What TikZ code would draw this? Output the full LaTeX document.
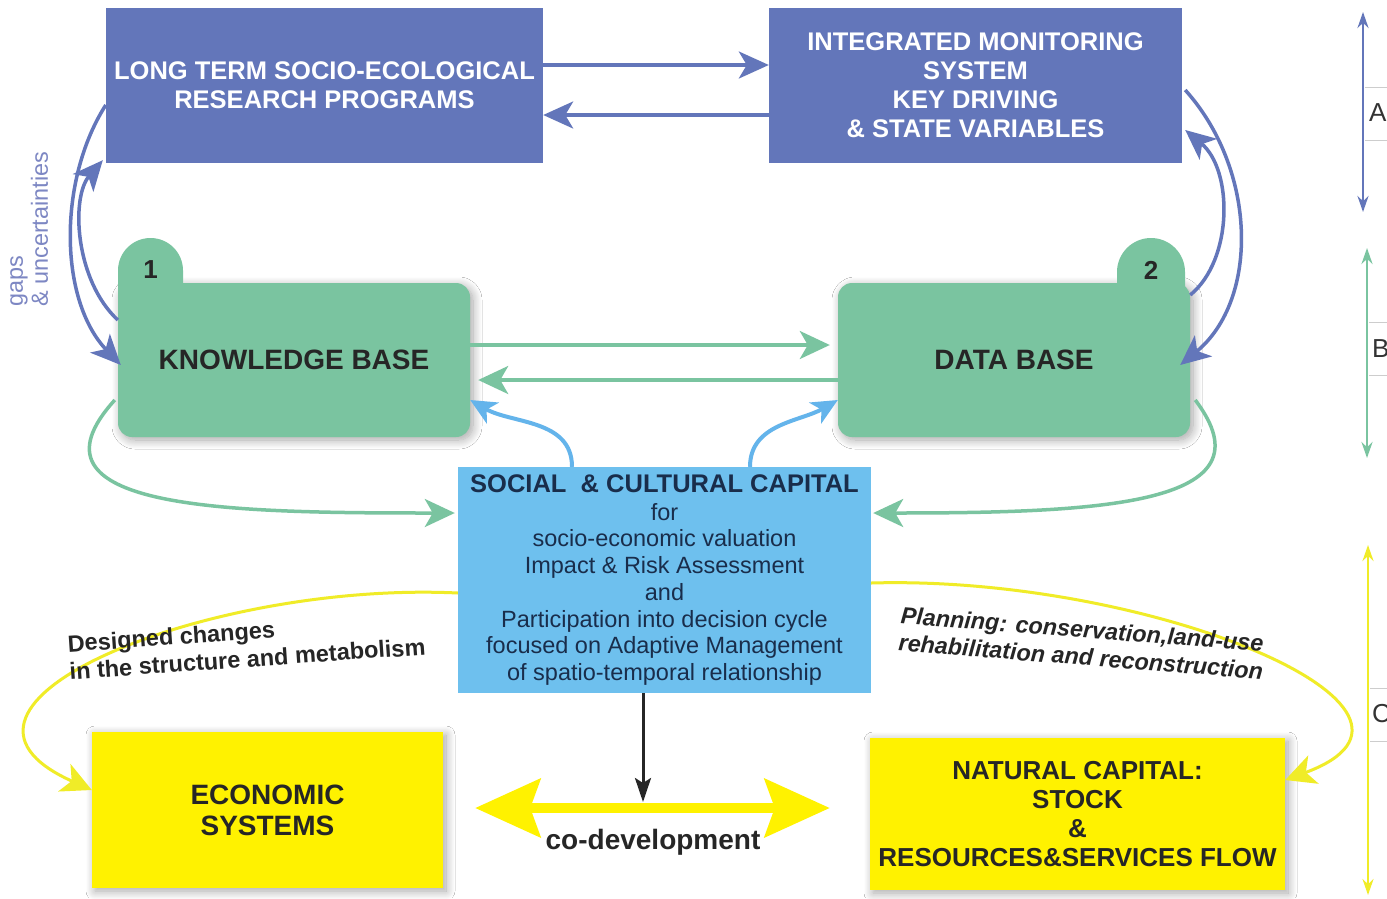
\documentclass[tikz,border=0pt]{standalone}
\usepackage{fontspec}
\setmainfont{Liberation Sans}
\usetikzlibrary{arrows.meta,shadows.blur}
\definecolor{boxblue}{RGB}{99,118,186}
\definecolor{boxgreen}{RGB}{122,196,160}
\definecolor{boxlight}{RGB}{110,192,238}
\definecolor{arrlight}{RGB}{100,180,235}
\definecolor{boxyellow}{RGB}{255,242,0}
\definecolor{lineyellow}{RGB}{240,236,40}
\definecolor{gapsblue}{RGB}{125,135,195}
\definecolor{navy}{RGB}{25,45,75}
\definecolor{scalegray}{RGB}{205,205,205}
\tikzset{
 softshadow/.style={blur shadow={shadow xshift=3pt, shadow yshift=-3pt, shadow blur radius=9pt, shadow blur steps=12, shadow opacity=35}},
 bluebox/.style={fill=boxblue, text=white, align=center, inner sep=0pt, font=\bfseries\fontsize{25.5}{29}\selectfont},
 greenbox/.style={fill=boxgreen, rounded corners=14pt, inner sep=0pt, text=black!85, font=\bfseries\fontsize{28}{31}\selectfont, softshadow},
 tabnum/.style={font=\bfseries\fontsize{26}{28}\selectfont, text=black!85, inner sep=0pt},
 socbox/.style={fill=boxlight, inner sep=0pt, align=center, text=navy, font=\fontsize{23.5}{26.7}\selectfont},
 yelbox/.style={fill=boxyellow, inner sep=0pt, align=center, text=black!85, softshadow},
 bluearrow/.style={draw=boxblue, line width=3.5pt, -{Stealth[length=30pt,width=27pt,inset=8pt]}},
 greenarrow/.style={draw=boxgreen, line width=3.5pt, -{Stealth[length=30pt,width=28pt,inset=8pt]}},
 lightarrow/.style={draw=arrlight, line width=4pt, -{Stealth[length=26pt,width=24pt,inset=7pt]}},
 yellowcurve/.style={draw=lineyellow, line width=3pt, -{Stealth[length=30pt,width=30pt,inset=8pt]}},
 blackarrow/.style={draw=black!85, line width=3pt, -{Stealth[length=24pt,width=16pt,inset=5pt]}},
 codev/.style={draw=boxyellow, line width=10pt, {Stealth[length=65pt,width=58pt,inset=10pt]}-{Stealth[length=65pt,width=58pt,inset=10pt]}},
 scalearrow/.style={line width=2.5pt, {Stealth[length=16pt,width=11pt]}-{Stealth[length=16pt,width=11pt]}},
 scaleletter/.style={anchor=west, inner sep=0pt, font=\fontsize{26}{28}\selectfont, text=black!80},
 captext/.style={font=\bfseries\fontsize{23.5}{27.5}\selectfont, text=black!85, align=left, inner sep=0pt},
}
\begin{document}
\begin{tikzpicture}[x=1pt,y=1pt]
\useasboundingbox (0,0) rectangle (1387,-898);
\fill[white] (0,0) rectangle (1387,-898);

% top blue boxes
\node[bluebox, minimum width=437pt, minimum height=155pt] (ltser) at (324.5,-85.5) {LONG TERM SOCIO-ECOLOGICAL\\RESEARCH PROGRAMS};
\node[bluebox, minimum width=413pt, minimum height=155pt] (ims) at (975.5,-85.5) {INTEGRATED MONITORING\\SYSTEM\\KEY DRIVING\\\& STATE VARIABLES};

% green boxes with tabs
\node[greenbox, minimum width=352pt, minimum height=154pt] (kb) at (294,-360) {KNOWLEDGE BASE};
\fill[boxgreen] (118,-300) -- (118,-270.5) arc[start angle=180,end angle=0,radius=32.5] -- (183,-300) -- cycle;
\node[tabnum] (kbnum) at (150.5,-270) {1};
\node[greenbox, minimum width=352pt, minimum height=154pt] (db) at (1014,-360) {DATA BASE};
\fill[boxgreen] (1117,-300) -- (1117,-272) arc[start angle=180,end angle=0,radius=34] -- (1185,-300) -- cycle;
\node[tabnum] (dbnum) at (1151,-270) {2};

% social box
\node[socbox, minimum width=413pt, minimum height=226pt] (soc) at (664.5,-580)
 {{\bfseries\fontsize{25.5}{28}\selectfont SOCIAL\ \ \& CULTURAL CAPITAL}\\[1pt]
  for\\socio-economic valuation\\Impact \& Risk Assessment\\and\\Participation into decision cycle\\focused on Adaptive Management\\of spatio-temporal relationship};

% yellow boxes
\node[yelbox, minimum width=351pt, minimum height=156pt, font=\bfseries\fontsize{28}{31}\selectfont] (econ) at (267.5,-810) {ECONOMIC\\SYSTEMS};
\node[yelbox, minimum width=415pt, minimum height=152pt, font=\bfseries\fontsize{26}{29}\selectfont] (nat) at (1077.5,-814) {NATURAL CAPITAL:\\STOCK\\\&\\RESOURCES\&SERVICES FLOW};

% blue horizontal arrows
\draw[bluearrow] ([yshift=20.5pt]ltser.east) -- ([yshift=20.5pt]ims.west);
\draw[bluearrow] ([yshift=-29.5pt]ims.west) -- ([yshift=-29.5pt]ltser.east);

% blue side arcs
\draw[bluearrow] ([yshift=-19.5pt]ltser.west) .. controls +(-48,-75) and +(-62,65) .. ([xshift=3pt,yshift=-5pt]kb.west);
\draw[bluearrow] ([yshift=40pt]kb.west) .. controls +(-43,40) and +(-32,-37) .. ([xshift=-3pt,yshift=3pt]ltser.south west);
\draw[bluearrow] ([xshift=3pt,yshift=-4.5pt]ims.east) .. controls +(72,-80) and +(79,65) .. ([xshift=-10pt,yshift=-5pt]db.east);
\draw[bluearrow] ([yshift=65pt]db.east) .. controls +(43,35) and +(48,-40) .. ([xshift=3pt,yshift=-44.5pt]ims.east);

% green arrows
\draw[greenarrow, shorten >=8pt] ([yshift=15pt]kb.east) -- ([yshift=15pt]db.west);
\draw[greenarrow, shorten >=8pt] ([yshift=-20pt]db.west) -- ([yshift=-20pt]kb.east);
\draw[greenarrow, shorten >=3pt] ([xshift=-3pt,yshift=-40pt]kb.west) .. controls +(-100,-110) and +(-230,0) .. ([yshift=67pt]soc.west);
\draw[greenarrow, shorten >=2pt] ([xshift=5pt,yshift=-40pt]db.east) .. controls +(80,-105) and +(230,0) .. ([yshift=67pt]soc.east);

% light blue arrows
\draw[lightarrow] ([xshift=-92.5pt]soc.north) to[out=90,in=-30] ([yshift=-40pt]kb.east);
\draw[lightarrow] ([xshift=85.5pt]soc.north) to[out=90,in=210] ([yshift=-40pt]db.west);

% gaps label
\node[rotate=90, anchor=north west, align=left, inner sep=0pt, text=gapsblue, font=\fontsize{23.4}{25}\selectfont] (gaps) at (10,-307) {gaps\\\& uncertainties};

% yellow curves
\draw[yellowcurve] ([yshift=-13pt]soc.west) .. controls +(-250,12) and +(-190,85) .. ([yshift=20pt]econ.west);
\draw[yellowcurve] ([yshift=-3pt]soc.east) .. controls +(279,8) and +(190,70) .. ([yshift=34pt]nat.east);
\node[captext, rotate=4] (designed) at (246.5,-645) {Designed changes\\in the structure and metabolism};
\node[captext, rotate=-4.5, font=\bfseries\itshape\fontsize{23.4}{27.5}\selectfont] (planning) at (1082,-643) {Planning: conservation,land-use\\rehabilitation and reconstruction};

% co-development
\coordinate (codmid) at (643,-808);
\draw[codev, shorten <=32pt, shorten >=40pt] ([yshift=2pt]econ.east) -- ([yshift=6pt]nat.west);
\draw[blackarrow, shorten >=6pt] ([xshift=-21.5pt]soc.south) -- (codmid);
\node[font=\bfseries\fontsize{28}{30}\selectfont, text=black!85, inner sep=0pt] (codevtext) at (653,-842) {co-development};

% scale on the right
\coordinate (atop) at (1363,-12); \coordinate (abot) at (1363,-212);
\coordinate (btop) at (1367,-248); \coordinate (bbot) at (1367,-458);
\coordinate (ctop) at (1368,-545); \coordinate (cbot) at (1368,-895);
\draw[scalegray, line width=1pt] (1365,-87) -- (1387,-87) (1365,-140) -- (1387,-140);
\draw[scalegray, line width=1pt] (1369,-322) -- (1387,-322) (1369,-375) -- (1387,-375);
\draw[scalegray, line width=1pt] (1370,-688) -- (1387,-688) (1370,-741) -- (1387,-741);
\draw[scalearrow, boxblue] (atop) -- (abot);
\draw[scalearrow, boxgreen] (btop) -- (bbot);
\draw[scalearrow, lineyellow] (ctop) -- (cbot);
\node[scaleletter] (lA) at (1369,-113) {A};
\node[scaleletter] (lB) at (1372,-349) {B};
\node[scaleletter] (lC) at (1372,-714) {C};
\end{tikzpicture}
\end{document}
